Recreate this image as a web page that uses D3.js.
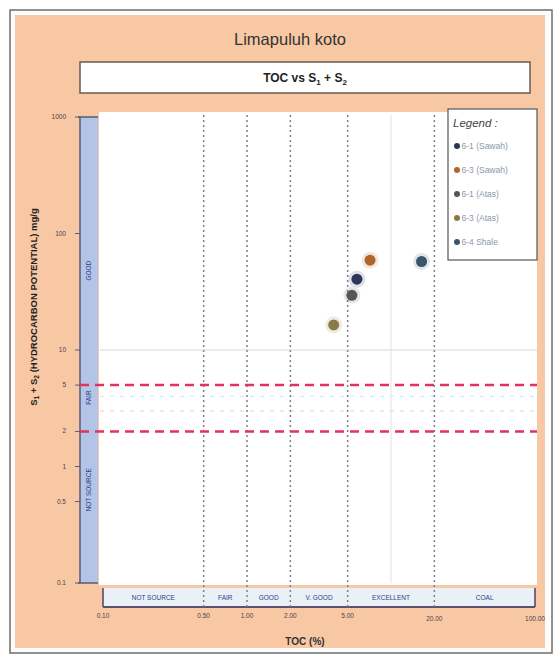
<!DOCTYPE html>
<html>
<head>
<meta charset="utf-8">
<script src="https://cdn.jsdelivr.net/npm/d3@7"></script>
<style>
  body { margin: 0; background: #fff; }
  svg { display: block; font-family: "Liberation Sans", Arial, sans-serif; }
</style>
</head>
<body>
<div id="chart"></div>
<script>
(() => {
  // datos de las muestras
  const samples = ['6-1 (Sawah)', '6-3 (Sawah)', '6-1 (Atas)', '6-3 (Atas)', '6-4 Shale'];
  const tocValues = [5.8, 7.15, 5.35, 4.0, 16.3];
  const s1s2Values = [40.5, 59, 29.5, 16.4, 57.5];
  const sampleColors = ['#2c3656', '#b0652a', '#55565a', '#8c7a45', '#3c5468'];

  const xTicks = [0.1, 0.5, 1, 2, 5, 20, 100];
  const xTickLabels = ['0.10', '0.50', '1.00', '2.00', '5.00', '20.00', '100.00'];
  const yTicks = [1000, 100, 10, 5, 2, 1, 0.5, 0.1];
  const yTickLabels = ['1000', '100', '10', '5', '2', '1', '0.5', '0.1'];

  const xZoneBounds = [0.1, 0.5, 1, 2, 5, 20, 100];
  const xZoneLabels = ['NOT SOURCE', 'FAIR', 'GOOD', 'V. GOOD', 'EXCELLENT', 'COAL'];
  const yZoneLabels = ['GOOD', 'FAIR', 'NOT SOURCE'];
  const yZoneCenters = [48, 3.9, 0.63];
  const yLimits = [5, 2];

  const W = 560, H = 665;
  const peach = '#f8c8a4';

  const svg = d3.select('#chart').append('svg')
    .attr('width', W).attr('height', H);

  // marco
  svg.append('rect').attr('x', 10).attr('y', 10).attr('width', 542).attr('height', 643)
    .attr('fill', '#fdfdfd').attr('stroke', '#6e6e6e').attr('stroke-width', 1.5);
  svg.append('rect').attr('x', 15).attr('y', 15).attr('width', 530).attr('height', 633)
    .attr('fill', peach);

  svg.append('text').attr('x', 290).attr('y', 45).attr('text-anchor', 'middle')
    .attr('font-size', 16.5).attr('fill', '#333').text('Limapuluh koto');

  svg.append('rect').attr('x', 80).attr('y', 62).attr('width', 450).attr('height', 31)
    .attr('fill', '#fff').attr('stroke', '#6b5a50').attr('stroke-width', 1.5);
  const sub = svg.append('text').attr('x', 305).attr('y', 82).attr('text-anchor', 'middle')
    .attr('font-size', 12).attr('font-weight', 'bold').attr('fill', '#222');
  sub.append('tspan').text('TOC vs S');
  sub.append('tspan').attr('font-size', 8).attr('dy', 3).text('1');
  sub.append('tspan').attr('dy', -3).text(' + S');
  sub.append('tspan').attr('font-size', 8).attr('dy', 3).text('2');

  const x = d3.scaleLog().domain([0.1, 100]).range([103, 535]);
  const y = d3.scaleLog().domain([0.1, 1000]).range([583, 117]);

  // area del grafico
  svg.append('rect').attr('x', 99).attr('y', 112).attr('width', 438).attr('height', 473)
    .attr('fill', '#fff');

  // lineas de cuadricula tenues
  svg.append('line').attr('x1', 100).attr('x2', 537).attr('y1', y(10)).attr('y2', y(10))
    .attr('stroke', '#d8d8d8');
  svg.append('line').attr('x1', x(10)).attr('x2', x(10)).attr('y1', 115).attr('y2', 583)
    .attr('stroke', '#e2e2e2');
  [4, 3].forEach((v, i) => {
    svg.append('line').attr('x1', 100).attr('x2', 537).attr('y1', y(v)).attr('y2', y(v))
      .attr('stroke', i ? '#f4c6d2' : '#cde8ec').attr('stroke-dasharray', '4,6');
  });

  // banda inferior de clasificacion
  svg.append('rect').attr('x', x(0.1)).attr('y', 588).attr('width', x(100) - x(0.1)).attr('height', 19)
    .attr('fill', '#e9f1f6');
  svg.append('line').attr('x1', x(0.1)).attr('x2', x(0.1)).attr('y1', 588).attr('y2', 607)
    .attr('stroke', '#4a4560').attr('stroke-width', 1.5);
  svg.append('line').attr('x1', x(100)).attr('x2', x(100)).attr('y1', 588).attr('y2', 607)
    .attr('stroke', '#4a4560').attr('stroke-width', 1.5);
  svg.selectAll('.xzone').data(xZoneLabels).enter().append('text')
    .attr('x', (d, i) => (x(xZoneBounds[i]) + x(xZoneBounds[i + 1])) / 2)
    .attr('y', 600).attr('text-anchor', 'middle')
    .attr('font-size', 6.5).attr('fill', '#2f3d8a').text(d => d);

  // eje x
  svg.append('line').attr('x1', x(0.1)).attr('x2', x(100)).attr('y1', 607).attr('y2', 607)
    .attr('stroke', '#5d5170').attr('stroke-width', 2);
  svg.selectAll('.xtick').data(xTicks).enter().append('text')
    .attr('x', d => x(d)).attr('y', d => d >= 20 ? 621 : 618).attr('text-anchor', 'middle')
    .attr('font-size', 6.5).attr('fill', '#4a4050')
    .text((d, i) => xTickLabels[i]);
  svg.append('text').attr('x', 305).attr('y', 645).attr('text-anchor', 'middle')
    .attr('font-size', 10).attr('font-weight', 'bold').attr('fill', '#333').text('TOC (%)');

  // lineas verticales punteadas
  svg.selectAll('.vline').data(xTicks.slice(1, -1)).enter().append('line')
    .attr('x1', d => x(d)).attr('x2', d => x(d)).attr('y1', 115).attr('y2', 607)
    .attr('stroke', '#7c7c98').attr('stroke-width', 1.5).attr('stroke-dasharray', '2,3');

  // banda azul del eje y
  svg.append('rect').attr('x', 80).attr('y', y(1000)).attr('width', 18).attr('height', y(0.1) - y(1000))
    .attr('fill', '#b3c4e6');
  svg.append('line').attr('x1', 80).attr('x2', 80).attr('y1', y(1000)).attr('y2', y(0.1))
    .attr('stroke', '#5a5a78').attr('stroke-width', 1.5);
  [1000, 0.1].forEach(v => {
    svg.append('line').attr('x1', 78).attr('x2', 98).attr('y1', y(v)).attr('y2', y(v))
      .attr('stroke', '#5a5a78').attr('stroke-width', 1.5);
  });
  svg.selectAll('.yzone').data(yZoneLabels).enter().append('text')
    .attr('transform', (d, i) => `translate(91,${y(yZoneCenters[i])}) rotate(-90)`)
    .attr('text-anchor', 'middle').attr('font-size', 6.5).attr('fill', '#2f3d8a').text(d => d);

  svg.selectAll('.ytickmark').data(yTicks).enter().append('line')
    .attr('x1', 75).attr('x2', 80).attr('y1', d => y(d)).attr('y2', d => y(d))
    .attr('stroke', '#5a5a78');
  svg.selectAll('.ytick').data(yTicks).enter().append('text')
    .attr('x', 66).attr('y', d => y(d) + 2).attr('text-anchor', 'end')
    .attr('font-size', 6.5).attr('fill', '#4a4050')
    .text((d, i) => yTickLabels[i]);

  const yl = svg.append('text')
    .attr('transform', `translate(37,307) rotate(-90)`)
    .attr('text-anchor', 'middle').attr('font-size', 9.5).attr('font-weight', 'bold').attr('fill', '#222');
  yl.append('tspan').text('S');
  yl.append('tspan').attr('font-size', 6.5).attr('dy', 2).text('1');
  yl.append('tspan').attr('dy', -2).text(' + S');
  yl.append('tspan').attr('font-size', 6.5).attr('dy', 2).text('2');
  yl.append('tspan').attr('dy', -2).text(' (HYDROCARBON POTENTIAL) mg/g');

  // limites rojos
  svg.selectAll('.ylimit').data(yLimits).enter().append('line')
    .attr('x1', 80).attr('x2', 537).attr('y1', d => y(d)).attr('y2', d => y(d))
    .attr('stroke', '#e2335c').attr('stroke-width', 2.5).attr('stroke-dasharray', '9,6');

  // puntos
  const pts = svg.selectAll('.pt').data(samples).enter().append('g');
  pts.append('circle')
    .attr('cx', (d, i) => x(tocValues[i])).attr('cy', (d, i) => y(s1s2Values[i]))
    .attr('r', 8.5).attr('fill', (d, i) => sampleColors[i]).attr('opacity', 0.15);
  pts.append('circle')
    .attr('cx', (d, i) => x(tocValues[i])).attr('cy', (d, i) => y(s1s2Values[i]))
    .attr('r', 5.5).attr('fill', (d, i) => sampleColors[i]);

  // leyenda
  svg.append('rect').attr('x', 448).attr('y', 109).attr('width', 89).attr('height', 151)
    .attr('fill', '#fff').attr('stroke', '#555').attr('stroke-width', 1.2);
  svg.append('text').attr('x', 453).attr('y', 127).attr('font-size', 11.5)
    .attr('font-style', 'italic').attr('fill', '#444').text('Legend :');
  const leg = svg.selectAll('.leg').data(samples).enter().append('g')
    .attr('transform', (d, i) => `translate(457,${146 + i * 24})`);
  leg.append('circle').attr('r', 3).attr('fill', (d, i) => sampleColors[i]);
  leg.append('text').attr('x', 4.5).attr('y', 3).attr('font-size', 8.5)
    .attr('fill', '#8d98ac').text(d => d);
})();
</script>
</body>
</html>
